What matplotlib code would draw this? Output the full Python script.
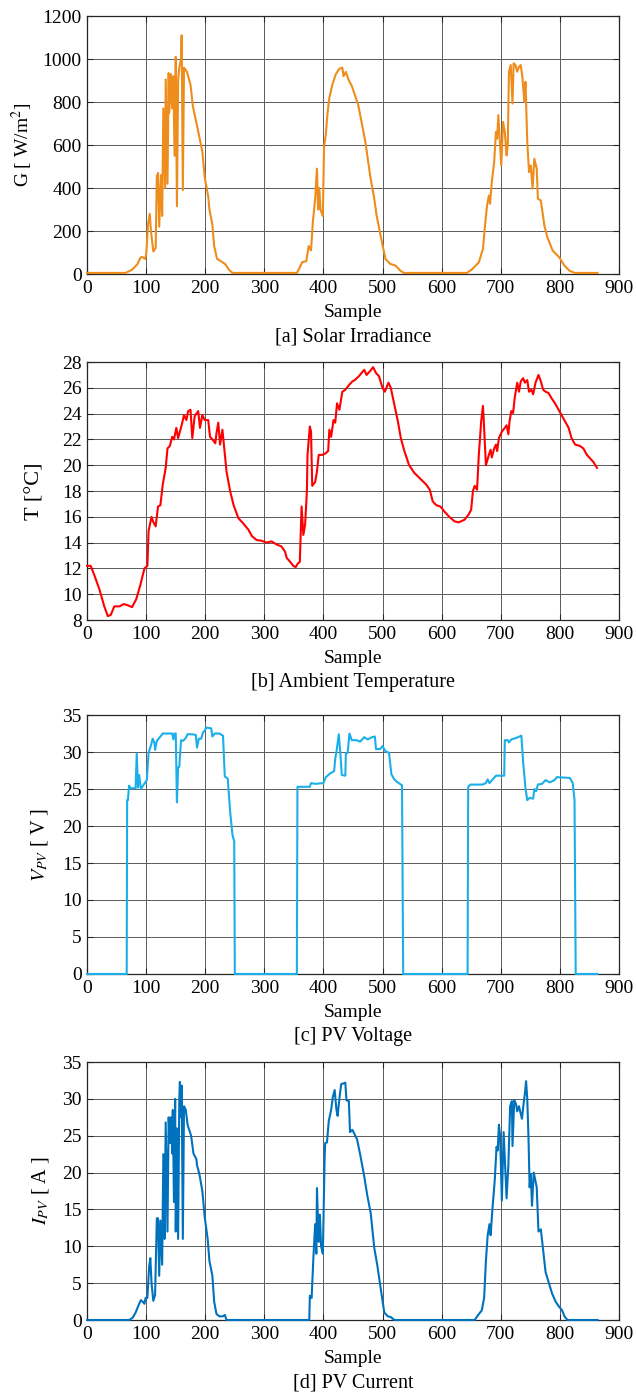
import matplotlib
matplotlib.use("Agg")
import matplotlib.pyplot as plt

# values (sample index, value)
irr_x = [0, 65, 76, 85, 90, 93, 98, 100, 103, 106, 108, 112, 116, 118, 120, 122, 125, 127, 129, 132,
         133, 136, 138, 139, 142, 144, 146, 148, 150, 152, 154, 156, 159, 160, 162, 164, 169, 175, 179, 186,
         195, 199, 205, 207, 212, 215, 220, 229, 234, 240, 246, 355, 359, 364, 371, 375, 379, 382, 386, 389,
         391, 393, 395, 399, 401, 404, 407, 410, 415, 421, 427, 432, 434, 438, 443, 448, 459, 471, 479, 486,
         490, 499, 505, 513, 522, 530, 536, 643, 652, 663, 670, 674, 677, 680, 682, 685, 689, 692, 694, 696,
         698, 701, 704, 707, 710, 712, 714, 717, 720, 722, 725, 728, 731, 734, 737, 740, 742, 745, 748, 751,
         754, 757, 761, 763, 768, 774, 779, 788, 799, 808, 816, 825, 864]
irr_y = [5, 5, 20, 45, 75, 80, 70, 90, 230, 280, 200, 105, 120, 455, 470, 220, 460, 270, 770, 400,
         905, 420, 935, 750, 930, 770, 920, 550, 1010, 315, 900, 960, 1000, 1110, 390, 960, 940, 880, 780, 690,
         570, 450, 360, 300, 230, 130, 70, 55, 45, 20, 5, 5, 25, 55, 60, 130, 110, 240, 350, 490,
         300, 400, 300, 270, 590, 650, 750, 820, 880, 930, 955, 960, 920, 940, 900, 875, 785, 614, 459, 350,
         272, 148, 70, 47, 39, 16, 5, 5, 23, 54, 117, 241, 319, 365, 327, 428, 521, 661, 630, 739,
         645, 505, 707, 661, 552, 599, 941, 972, 793, 980, 972, 941, 964, 972, 910, 801, 894, 614, 474, 505,
         397, 536, 490, 350, 342, 225, 171, 109, 78, 39, 16, 5, 5]

temp_x = [0, 6, 12, 21, 29, 35, 40, 46, 55, 62, 69, 76, 83, 90, 97, 102, 104, 109, 112, 116,
          120, 124, 128, 133, 136, 140, 144, 147, 151, 154, 160, 164, 168, 171, 175, 178, 182, 188, 191, 195,
          199, 205, 208, 212, 217, 219, 222, 225, 229, 233, 236, 242, 248, 256, 264, 273, 279, 287, 295, 304,
          312, 321, 329, 335, 338, 343, 349, 353, 357, 360, 363, 366, 369, 372, 373, 377, 379, 381, 386, 389,
          392, 398, 403, 408, 410, 413, 417, 420, 423, 427, 432, 437, 443, 449, 453, 460, 469, 473, 479, 484,
          489, 494, 500, 504, 510, 514, 520, 526, 531, 537, 545, 554, 565, 574, 580, 585, 591, 598, 605, 613,
          622, 629, 639, 646, 650, 653, 656, 660, 663, 667, 670, 671, 675, 680, 683, 685, 689, 692, 694, 697,
          702, 707, 710, 713, 715, 718, 721, 724, 728, 731, 734, 738, 741, 745, 748, 752, 755, 759, 764, 768,
          772, 776, 781, 786, 792, 798, 803, 809, 815, 820, 826, 834, 840, 846, 851, 857, 863]
temp_y = [12.2, 12.2, 11.5, 10.35, 9.06, 8.3, 8.4, 9.06, 9.06, 9.24, 9.14, 9.0, 9.6, 10.7, 12.0, 12.2, 14.9, 16.0, 15.6, 15.26,
          16.8, 16.9, 18.5, 19.8, 21.3, 21.5, 22.2, 22.0, 22.9, 22.1, 23.1, 23.9, 23.5, 24.2, 24.3, 22.1, 23.8, 24.2, 22.9, 23.9,
          23.5, 23.5, 22.2, 22.0, 21.7, 22.5, 23.3, 21.6, 22.75, 20.9, 19.5, 18.0, 16.9, 15.9, 15.5, 15.0, 14.5, 14.2, 14.15, 14.0,
          14.1, 13.85, 13.7, 13.3, 12.8, 12.55, 12.2, 12.1, 12.4, 12.5, 16.8, 14.6, 15.4, 18.0, 20.8, 23.0, 22.6, 18.4, 18.7, 19.5,
          20.8, 20.8, 20.9, 21.1, 22.75, 22.2, 23.5, 23.3, 24.8, 24.3, 25.7, 25.85, 26.2, 26.5, 26.6, 26.9, 27.4, 27.0, 27.3, 27.6,
          27.15, 26.9, 26.0, 25.7, 26.4, 26.0, 24.7, 23.4, 22.1, 21.1, 20.0, 19.4, 18.9, 18.5, 18.1, 17.2, 16.9, 16.8, 16.4, 16.0,
          15.65, 15.57, 15.78, 16.2, 16.55, 18.0, 18.4, 18.1, 20.8, 23.4, 24.6, 23.8, 20.0, 20.8, 21.2, 20.6, 21.3, 21.6, 21.1, 22.1,
          22.6, 22.9, 23.1, 22.4, 23.4, 24.2, 24.05, 25.3, 26.4, 25.7, 26.5, 26.75, 26.4, 26.6, 25.7, 25.85, 25.5, 26.4, 27.0, 26.5,
          25.85, 25.7, 25.6, 25.2, 24.8, 24.3, 23.9, 23.4, 22.9, 22.1, 21.6, 21.5, 21.3, 20.8, 20.55, 20.25, 19.8]

volt_x = [0, 67, 67.7, 69, 71, 74, 82, 84, 86, 88, 91, 95, 101, 104, 108, 111, 114, 115, 118, 122,
          128, 136, 144, 146, 148, 150, 152, 154, 156, 159, 162, 167, 170, 178, 184, 186, 189, 193, 196, 199,
          202, 210, 212, 216, 224, 230, 233, 238, 242, 246, 249, 250, 355, 356, 377, 379, 386, 400, 404, 407,
          411, 418, 420, 422, 426, 429, 431, 437, 438, 441, 444, 448, 456, 462, 469, 475, 482, 487, 489, 496,
          500, 505, 511, 515, 520, 524, 533, 535, 644, 645, 649, 658, 669, 675, 678, 681, 692, 706, 707, 712,
          714, 718, 726, 735, 738, 742, 745, 749, 755, 757, 760, 763, 770, 776, 783, 791, 795, 817, 822, 825,
          827, 864]
volt_y = [0, 0, 23.5, 23.5, 25.45, 25.1, 25.1, 29.8, 25.2, 26.9, 25.0, 25.5, 26.2, 29.9, 30.9, 31.8, 31.2, 30.3, 31.5, 31.9,
          32.5, 32.5, 32.5, 31.7, 32.5, 32.5, 23.2, 27.9, 28.0, 31.6, 31.5, 31.9, 32.4, 32.4, 32.3, 30.6, 31.8, 31.8, 32.6, 32.9,
          33.3, 33.2, 32.1, 32.5, 32.5, 32.2, 26.7, 26.4, 22.0, 18.8, 17.9, 0, 0, 25.3, 25.3, 25.8, 25.7, 25.8, 26.6, 26.8,
          27.1, 27.4, 29.1, 30.0, 32.4, 29.4, 26.9, 26.8, 29.8, 29.9, 32.5, 31.6, 31.6, 31.4, 32.0, 31.7, 32.0, 32.1, 30.4, 30.4,
          30.8, 30.1, 29.9, 27.0, 26.3, 26.0, 25.5, 0, 0, 25.3, 25.6, 25.6, 25.6, 25.8, 26.3, 25.8, 26.8, 26.8, 31.6, 31.6,
          31.3, 31.7, 31.9, 32.2, 28.7, 25.1, 23.5, 23.8, 23.7, 25.0, 24.7, 25.6, 25.7, 26.2, 25.9, 26.2, 26.6, 26.5, 25.8, 23.5,
          0, 0]

cur_x = [0, 71, 77, 82, 87, 91, 95, 97, 99, 102, 105, 107, 109, 112, 115, 118, 120, 122, 124, 127,
         129, 131, 133, 136, 138, 140, 142, 144, 145, 147, 149, 150, 152, 154, 156, 157, 159, 160, 162, 164,
         167, 170, 176, 180, 185, 186, 190, 195, 199, 204, 207, 212, 215, 219, 224, 230, 233, 236, 376, 377,
         380, 383, 386, 388, 389, 392, 394, 396, 399, 402, 403, 406, 409, 413, 416, 419, 422, 424, 427, 430,
         434, 437, 439, 443, 445, 449, 457, 463, 469, 474, 480, 486, 491, 497, 503, 509, 514, 520, 656, 662,
         668, 672, 675, 678, 681, 683, 686, 690, 693, 695, 697, 699, 702, 705, 707, 710, 713, 716, 719, 720,
         723, 726, 728, 731, 734, 736, 739, 741, 743, 745, 747, 749, 751, 753, 756, 759, 761, 764, 768, 776,
         781, 787, 793, 798, 804, 808, 813, 864]
cur_y = [0, 0, 0.3, 1.0, 2.0, 2.7, 2.4, 2.2, 3.0, 3.0, 7.3, 8.4, 5.0, 2.6, 3.4, 13.8, 13.8, 6.0, 13.5, 7.5,
         22.5, 11.0, 26.8, 12.0, 27.5, 24.0, 27.5, 22.6, 28.5, 16.0, 30.0, 12.0, 26.0, 11.0, 30.0, 32.3, 27.5, 31.8, 11.0, 29.0,
         28.5, 26.5, 25.0, 22.6, 21.8, 21.0, 19.8, 17.5, 14.0, 11.0, 8.0, 6.0, 2.5, 0.8, 0.5, 0.5, 0.7, 0, 0, 3.3,
         3.0, 8.5, 13.0, 9.0, 17.9, 10.6, 14.3, 10.0, 9.0, 22.0, 24.0, 24.1, 27.0, 28.5, 30.3, 31.2, 28.5, 27.7, 30.0, 32.0,
         32.1, 32.2, 29.8, 29.7, 25.5, 25.8, 24.5, 22.1, 19.5, 17.0, 14.5, 9.8, 7.5, 4.3, 1.0, 0.5, 0.4, 0, 0, 0.7,
         1.3, 3.0, 8.0, 11.5, 13.0, 11.5, 15.0, 19.0, 23.5, 23.0, 26.5, 25.0, 16.2, 25.5, 22.0, 16.5, 21.0, 29.0, 29.7, 23.6,
         29.8, 29.3, 28.3, 29.0, 28.0, 27.3, 29.5, 30.7, 32.4, 30.0, 25.0, 18.0, 19.8, 15.5, 20.0, 18.8, 18.0, 12.0, 12.3, 6.5,
         5.2, 3.6, 2.5, 1.9, 1.3, 0.5, 0, 0]

plt.rcParams["font.family"] = ["Liberation Serif", "DejaVu Serif"]
plt.rcParams["mathtext.fontset"] = "stix"
plt.rcParams["font.size"] = 14

panels = [
    (irr_x, irr_y, "#EE8C1C", (0, 1200), range(0, 1201, 200), "G [ W/m$^2$]", -0.122, 14, "[a] Solar Irradiance"),
    (temp_x, temp_y, "#FF0000", (8, 28), range(8, 29, 2), "T [°C]", -0.098, 16, "[b] Ambient Temperature"),
    (volt_x, volt_y, "#1AAFEA", (0, 35), range(0, 36, 5), "$V_{PV}$ [ V ]", -0.090, 14.5, "[c] PV Voltage"),
    (cur_x, cur_y, "#0072BD", (0, 35), range(0, 36, 5), "$I_{PV}$ [ A ]", -0.087, 14.5, "[d] PV Current"),
]
# axes boxes in figure fractions: left, bottom, width, height
boxes = [
    [0.137, 0.8033, 0.836, 0.1852],
    [0.137, 0.5549, 0.836, 0.1852],
    [0.137, 0.3008, 0.836, 0.1859],
    [0.137, 0.0524, 0.836, 0.1852],
]

fig = plt.figure(figsize=(6.36, 13.93), dpi=100)
for (xs, ys, color, ylim, yticks, ylabel, ylx, ylfs, caption), box in zip(panels, boxes):
    ax = fig.add_axes(box)
    ax.plot(xs, ys, color=color, lw=1.5, clip_on=False, zorder=3)
    ax.set_xlim(0, 900)
    ax.set_ylim(*ylim)
    ax.set_xticks(range(0, 901, 100))
    ax.set_yticks(list(yticks))
    ax.grid(True, color="#5a5a5a", lw=0.7)
    ax.set_axisbelow(True)
    ax.tick_params(direction="in", top=True, right=True, length=4, width=0.8,
                   pad=4, labelsize=14, color="#262626")
    for sp in ax.spines.values():
        sp.set_color("#262626")
        sp.set_linewidth(0.9)
    ax.text(ylx, 0.5, ylabel, transform=ax.transAxes, rotation=90,
            ha="center", va="center", fontsize=ylfs)
    ax.annotate("Sample", xy=(0.5, 0), xycoords="axes fraction", xytext=(0, -28),
                textcoords="offset points", ha="center", va="center", fontsize=14)
    ax.annotate(caption, xy=(0.5, 0), xycoords="axes fraction", xytext=(0, -45),
                textcoords="offset points", ha="center", va="center", fontsize=14.5)

fig.savefig("out.png", dpi=100)
